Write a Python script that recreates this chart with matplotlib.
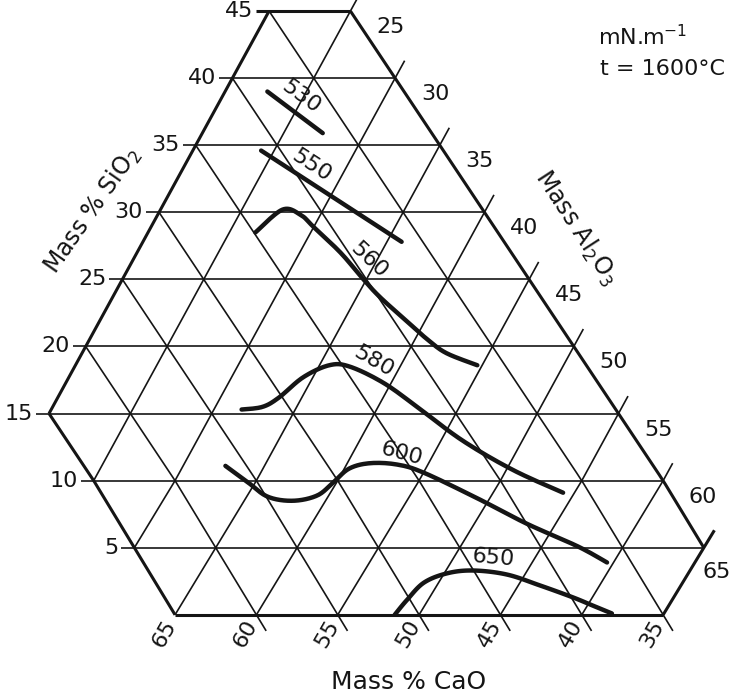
import matplotlib
matplotlib.use("Agg")
import matplotlib.pyplot as plt
import numpy as np

plt.rcParams["font.family"] = ["DejaVu Sans"]

# tick values on the three composition axes (mass %)
sio2_ticks = [5, 10, 15, 20, 25, 30, 35, 40, 45]
al2o3_ticks = [25, 30, 35, 40, 45, 50, 55, 60, 65]
cao_ticks = [65, 60, 55, 50, 45, 40, 35]

# iso-surface-tension lines (SiO2 %, Al2O3 %)
levels = ["530", "550", "560", "580", "600", "650"]
sio2_530 = [39.0, 35.9]
al2o3_530 = [22.6, 27.4]
sio2_550 = [34.6, 27.8]
al2o3_550 = [24.2, 35.9]
sio2_560 = [28.5, 30.2, 29.8, 28.9, 27.0, 25.1, 23.7, 21.8, 20.5, 19.5, 18.6]
al2o3_560 = [26.6, 27.5, 28.8, 30.0, 32.5, 34.7, 36.4, 39.0, 40.8, 42.4, 44.7]
sio2_580 = [15.3, 15.5, 16.2, 17.7, 18.6, 18.5, 17.3, 15.5, 13.0, 10.8, 9.1]
al2o3_580 = [31.7, 32.9, 33.6, 34.4, 35.6, 36.9, 39.5, 42.4, 46.3, 50.4, 54.3]
sio2_600 = [11.1, 9.9, 8.8, 8.5, 8.9, 9.9, 10.9, 11.3, 11.2, 10.6, 8.7, 6.8, 5.1, 3.9]
al2o3_600 = [32.6, 34.5, 36.3, 38.0, 39.3, 39.8, 40.3, 41.4, 43.1, 45.0, 49.2, 53.2, 57.2, 59.6]
sio2_650 = [0.0, 1.1, 2.4, 3.1, 3.3, 3.0, 2.2, 1.3, 0.7, 0.1]
al2o3_650 = [48.5, 48.7, 49.1, 50.2, 51.7, 53.9, 56.3, 58.8, 60.3, 61.8]

curves = [
    (sio2_530, al2o3_530), (sio2_550, al2o3_550), (sio2_560, al2o3_560),
    (sio2_580, al2o3_580), (sio2_600, al2o3_600), (sio2_650, al2o3_650),
]
# label placement (pixels) and rotation for each curve
label_pos = [(301, 97, -36), (312, 166, -33), (369, 260, -43),
             (374, 361, -30), (402, 454, -15), (493, 558, -5)]

INK = "#151515"
X0, SX, Y0, SY = -394.4, 16.27, 614.8, 13.417


def to_xy(si, al):
    # ternary -> picture coordinates (slight lean of the scanned original)
    si = np.asarray(si, dtype=float)
    al = np.asarray(al, dtype=float)
    x = X0 + SX * (al + si / 2) - 0.8 * np.clip(si - 10, 0, None)
    y = Y0 - SY * si
    return x, y


def smooth(x, y, n=14):
    # Catmull-Rom through the read points, for a hand-drawn look
    pts = np.column_stack([x, y])
    if len(pts) < 3:
        return pts[:, 0], pts[:, 1]
    p = np.vstack([pts[0], pts, pts[-1]])
    t = np.linspace(0, 1, n, endpoint=False)[:, None]
    out = []
    for i in range(1, len(p) - 2):
        p0, p1, p2, p3 = p[i - 1], p[i], p[i + 1], p[i + 2]
        out.append(0.5 * (2 * p1 + (p2 - p0) * t
                          + (2 * p0 - 5 * p1 + 4 * p2 - p3) * t ** 2
                          + (3 * p1 - p0 - 3 * p2 + p3) * t ** 3))
    out.append(p[-2][None])
    out = np.vstack(out)
    return out[:, 0], out[:, 1]


fig = plt.figure(figsize=(7.38, 6.98), dpi=100)
ax = fig.add_axes([0, 0, 1, 1])
ax.set_xlim(0, 738)
ax.set_ylim(698, 0)
ax.axis("off")


def seg(si0, al0, si1, al1, lw):
    t = np.linspace(0, 1, 60)
    x, y = to_xy(si0 + (si1 - si0) * t, al0 + (al1 - al0) * t)
    ax.plot(x, y, color=INK, lw=lw, solid_capstyle="butt")


LW_EDGE, LW_GRID = 2.2, 1.2

# horizontal lines (constant SiO2)
for s in range(0, 50, 5):
    al_l = 35 - s if s <= 15 else 20
    al_r = 65 if s <= 5 else 70 - s
    ext = 0 if s == 0 else 0.8
    seg(s, al_l - ext, s, al_r, LW_EDGE if s in (0, 45) else LW_GRID)

# rising lines (constant Al2O3)
for a in range(20, 70, 5):
    s_lo = 0 if a >= 35 else 35 - a
    s_hi = 45 if a <= 25 else 70 - a
    ext = 0 if a == 20 else 1.3
    seg(s_lo, a, s_hi + ext, a, LW_EDGE if a in (20, 65) else LW_GRID)

# falling lines (constant CaO)
for c in range(30, 70, 5):
    s_lo = 5 if c == 30 else 0
    s_hi = min(45, 80 - c)
    ext = 1.2 if 35 <= c <= 60 else 0
    s0 = s_lo - ext
    seg(s0, 100 - c - s0, s_hi, 100 - c - s_hi,
        LW_EDGE if c in (30, 65) else LW_GRID)

# tick labels
for s in sio2_ticks:
    x, y = to_xy(s, 35 - s if s <= 15 else 20)
    ax.text(x - 16, y, str(s), ha="right", va="center", fontsize=16, color=INK)

for a in al2o3_ticks:
    x, y = to_xy(70 - a if a < 65 else 5, a)
    dx, dy = (13, 24) if a == 65 else (40, 16)
    ax.text(x + dx, y + dy, str(a), ha="center", va="center", fontsize=16, color=INK)

for c in cao_ticks:
    x, y = to_xy(0, 100 - c)
    ax.text(x - 11, y + 19, str(c), ha="center", va="center", rotation=60,
            fontsize=16, color=INK)

# iso-lines and their values
for (si, al), lev, (lx, ly, rot) in zip(curves, levels, label_pos):
    x, y = smooth(*to_xy(si, al))
    ax.plot(x, y, color=INK, lw=3.2, solid_capstyle="round", solid_joinstyle="round")
    ax.text(lx, ly, lev, ha="center", va="center", rotation=rot, fontsize=16, color=INK)

# axis titles and notes
ax.text(92, 210, "Mass % SiO$_2$", rotation=55, ha="center", va="center",
        fontsize=17, color=INK)
ax.text(576, 228, "Mass Al$_2$O$_3$", rotation=-57, ha="center", va="center",
        fontsize=17, color=INK)
ax.text(409, 682, "Mass % CaO", ha="center", va="center", fontsize=18, color=INK)
ax.text(598, 45, "mN.m$^{-1}$", ha="left", va="baseline", fontsize=16, color=INK)
ax.text(600, 69, "t = 1600°C", ha="left", va="center", fontsize=16, color=INK)

fig.savefig("out.png", dpi=100, facecolor="white")
